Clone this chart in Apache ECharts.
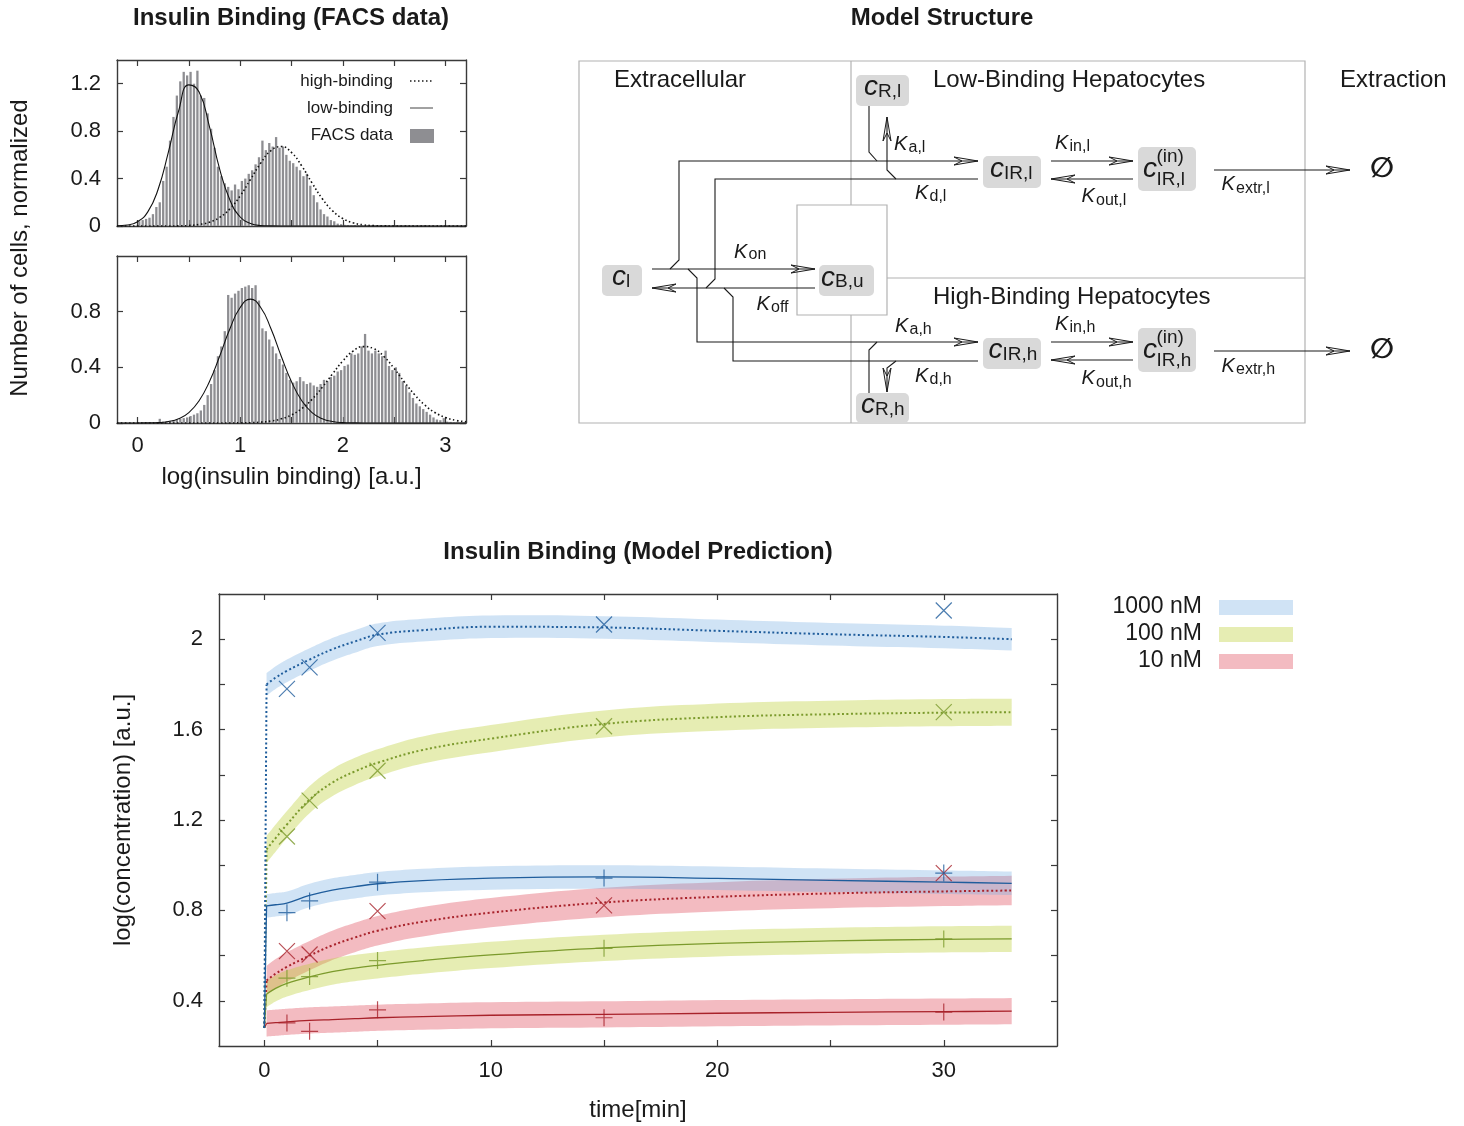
<!DOCTYPE html>
<html>
<head>
<meta charset="utf-8">
<title>Insulin Binding</title>
<script src="https://cdn.jsdelivr.net/npm/echarts@6/dist/echarts.min.js"></script>
<style>
  html, body { margin: 0; padding: 0; background: #fff; }
  #chart { width: 1464px; height: 1126px; }
</style>
</head>
<body>
<div id="chart"></div>
<script>
const FONT = '"Liberation Sans", Arial, Helvetica, sans-serif'
const INK = '#1a1a1a'

// ---- FACS histograms: bin heights, bins of width 1/30 starting at 0 ----
const binWidth = 1 / 30
const facsTop = [0.04, 0.05, 0.06, 0.07, 0.1, 0.16, 0.2, 0.38, 0.5, 0.72,
  0.92, 1.1, 1.22, 1.3, 1.27, 1.3, 1.2, 1.31, 1.1, 1.08,
  0.95, 0.82, 0.66, 0.5, 0.42, 0.36, 0.33, 0.3, 0.35, 0.31,
  0.38, 0.4, 0.44, 0.47, 0.52, 0.58, 0.72, 0.64, 0.7, 0.67,
  0.75, 0.66, 0.67, 0.6, 0.55, 0.53, 0.5, 0.47, 0.42, 0.44,
  0.34, 0.26, 0.2, 0.14, 0.1, 0.08, 0.05, 0.04, 0.02, 0.015,
  0.01, 0.008, 0.006, 0.008, 0.005, 0.006, 0.004, 0.006, 0.005, 0.004,
  0.005, 0.004, 0.006, 0.004, 0.003, 0.005, 0.004, 0.003, 0.004, 0.003,
  0.004, 0.003, 0.003, 0.004, 0.003, 0.002, 0.003, 0.003, 0.002, 0.003,
  0.002, 0.002, 0.003, 0.002, 0.002, 0.002]
const facsBottom = [0.004, 0.004, 0.004, 0.004, 0.004, 0.004, 0.03, 0.01, 0.012, 0.015,
  0.02, 0.025, 0.03, 0.035, 0.04, 0.05, 0.06, 0.07, 0.09, 0.13,
  0.2, 0.28, 0.38, 0.48, 0.55, 0.66, 0.92, 0.9, 0.93, 0.95,
  0.97, 0.98, 0.99, 0.97, 0.99, 0.88, 0.68, 0.66, 0.6, 0.55,
  0.5, 0.46, 0.42, 0.36, 0.31, 0.29, 0.3, 0.33, 0.3, 0.28,
  0.29, 0.27, 0.26, 0.28, 0.31, 0.3, 0.33, 0.34, 0.37, 0.38,
  0.41, 0.42, 0.5, 0.49, 0.5, 0.55, 0.64, 0.52, 0.5, 0.52,
  0.5, 0.48, 0.52, 0.41, 0.38, 0.4, 0.36, 0.3, 0.27, 0.22,
  0.18, 0.14, 0.12, 0.1, 0.08, 0.06, 0.04, 0.025, 0.02, 0.035,
  0.01, 0.008, 0.004, 0.004, 0.004, 0.004]

// fitted populations, sampled on fitX
const fitX = [-0.2, -0.1, 0, 0.1, 0.2, 0.3, 0.4, 0.5, 0.6, 0.7, 0.8, 0.9, 1.0, 1.1, 1.2, 1.3, 1.4,
  1.5, 1.6, 1.7, 1.8, 1.9, 2.0, 2.1, 2.2, 2.3, 2.4, 2.5, 2.6, 2.7, 2.8, 2.9, 3.0, 3.1, 3.2]
const lowFitTop = [0.002, 0.008, 0.036, 0.119, 0.308, 0.62, 0.97, 1.19, 1.13, 0.84, 0.48, 0.22, 0.076,
  0.021, 0.004, 0.001, 0, 0, 0, 0, 0, 0, 0, 0, 0, 0, 0, 0, 0, 0, 0, 0, 0, 0, 0]
const highFitTop = [0, 0, 0, 0, 0, 0, 0.001, 0.004, 0.013, 0.032, 0.073, 0.145, 0.254, 0.392, 0.53,
  0.636, 0.67, 0.62, 0.506, 0.363, 0.23, 0.128, 0.063, 0.027, 0.01, 0.003, 0.001, 0, 0, 0, 0, 0, 0, 0, 0]
const lowFitBottom = [0, 0, 0, 0.001, 0.003, 0.011, 0.031, 0.075, 0.16, 0.297, 0.48, 0.677, 0.83, 0.89,
  0.83, 0.677, 0.48, 0.297, 0.16, 0.075, 0.031, 0.011, 0.003, 0.001, 0, 0, 0, 0, 0, 0, 0, 0, 0, 0, 0]
const highFitBottom = [0, 0, 0, 0, 0, 0, 0, 0, 0, 0, 0, 0, 0.001, 0.002, 0.006, 0.014, 0.03, 0.058,
  0.104, 0.17, 0.257, 0.353, 0.446, 0.517, 0.549, 0.535, 0.478, 0.392, 0.294, 0.203, 0.128, 0.074,
  0.04, 0.019, 0.009]

const histTicksX = [0, 0.5, 1, 1.5, 2, 2.5, 3]
const histLabelsX = [0, 1, 2, 3]
const histTicksTopY = [0, 0.4, 0.8, 1.2]
const histTicksBottomY = [0, 0.4, 0.8]

// ---- model prediction (log concentration vs time) ----
const tModel = [0, 0.1, 0.5, 1, 2, 3, 4, 5, 7, 10, 15, 20, 25, 30, 33]
const high1000 = [0.28, 1.80, 1.83, 1.86, 1.91, 1.955, 1.99, 2.02, 2.04, 2.055, 2.052, 2.037, 2.022, 2.01, 2.0]
const high100 = [0.28, 1.07, 1.12, 1.18, 1.29, 1.365, 1.415, 1.453, 1.51, 1.56, 1.625, 1.655, 1.668, 1.675, 1.677]
const high10 = [0.28, 0.49, 0.52, 0.55, 0.60, 0.645, 0.68, 0.71, 0.75, 0.79, 0.835, 0.86, 0.875, 0.884, 0.888]
const low1000 = [0.28, 0.82, 0.825, 0.832, 0.866, 0.89, 0.905, 0.918, 0.932, 0.943, 0.948, 0.942, 0.933, 0.925, 0.92]
const low100 = [0.28, 0.43, 0.455, 0.477, 0.506, 0.529, 0.545, 0.557, 0.578, 0.603, 0.634, 0.654, 0.665, 0.672, 0.674]
const low10 = [0.28, 0.30, 0.303, 0.307, 0.313, 0.317, 0.321, 0.325, 0.33, 0.336, 0.34, 0.345, 0.349, 0.352, 0.354]
// half width of the uncertainty band around each curve
const bandHalf = { high1000: 0.05, high100: 0.06, high10: 0.065, low1000: 0.052, low100: 0.058, low10: 0.058 }

const tMeasured = [1, 2, 5, 15, 30]
const measHigh1000 = [1.78, 1.875, 2.028, 2.065, 2.127]
const measHigh100 = [1.127, 1.286, 1.418, 1.615, 1.677]
const measHigh10 = [0.62, 0.605, 0.797, 0.822, 0.965]
const measLow1000 = [0.79, 0.842, 0.925, 0.943, 0.965]
const measLow100 = [0.5, 0.507, 0.578, 0.632, 0.674]
const measLow10 = [0.302, 0.265, 0.36, 0.325, 0.35]

const timeTicks = [0, 5, 10, 15, 20, 25, 30]
const timeLabels = [0, 10, 20, 30]
const concTicks = [0.4, 0.6, 0.8, 1.0, 1.2, 1.4, 1.6, 1.8, 2.0]
const concLabels = [0.4, 0.8, 1.2, 1.6, 2]
const doseNames = ['1000 nM', '100 nM', '10 nM']

const BLUE = '#1f5d9c', GREEN = '#7b9a2c', RED = '#a8222a'
const BLUE_BAND = 'rgba(120,175,225,0.35)'
const GREEN_BAND = 'rgba(185,205,45,0.36)'
const RED_BAND = 'rgba(225,85,100,0.4)'
const SMOOTH = 0.4

// ---------- helpers ----------
function txt(x, y, s, size, o = {}) {
  return {
    type: 'text', x, y, rotation: o.rotation || 0, silent: true,
    style: {
      text: s, fill: o.color || INK,
      fontSize: size, fontFamily: o.family || FONT,
      fontStyle: o.italic ? 'italic' : 'normal', fontWeight: o.bold ? 'bold' : 'normal',
      textAlign: o.align || 'left', align: o.align || 'left',
      textVerticalAlign: 'middle', verticalAlign: 'middle'
    }
  }
}
function onBase(x, base, s, size, o) { return txt(x, base - 0.35 * size, s, size, o) }
function line(points, o = {}) {
  return {
    type: 'polyline', silent: true, shape: { points },
    style: { stroke: o.color || INK, lineWidth: o.width || 1.1, fill: null, lineDash: o.dash || null }
  }
}
function box(x, y, w, h, o = {}) {
  return {
    type: 'rect', silent: true, shape: { x, y, width: w, height: h, r: o.r || 0 },
    style: { fill: o.fill || null, stroke: o.stroke || null, lineWidth: o.width || 1 }
  }
}
function arrowHead(x, y, dir) {
  const L = 24, W = 4, N = 16
  const pts = {
    r: [[x - L, y - W], [x, y], [x - L, y + W], [x - N, y], [x - L, y - W]],
    l: [[x + L, y - W], [x, y], [x + L, y + W], [x + N, y], [x + L, y - W]],
    u: [[x - W, y + L], [x, y], [x + W, y + L], [x, y + N], [x - W, y + L]],
    d: [[x - W, y - L], [x, y], [x + W, y - L], [x, y - N], [x - W, y - L]]
  }[dir]
  return line(pts, { width: 1 })
}
// pixel-space bezier outline, same control-point rule as a smoothed line series
function smoothOutline(p, s) {
  const cp = p.map((pt, i) => {
    const prev = p[i - 1] || pt, next = p[i + 1] || pt
    const vx = next[0] - prev[0], vy = next[1] - prev[1]
    const l1 = Math.hypot(pt[0] - prev[0], pt[1] - prev[1])
    const l2 = Math.hypot(next[0] - pt[0], next[1] - pt[1])
    const r = l1 + l2 > 0 ? l2 / (l1 + l2) : 0.5
    return {
      a: [pt[0] - vx * s * (1 - r), pt[1] - vy * s * (1 - r)],
      b: [pt[0] + vx * s * r, pt[1] + vy * s * r]
    }
  })
  const out = [p[0]]
  for (let i = 1; i < p.length; i++) {
    const p0 = p[i - 1], c1 = cp[i - 1].b, c2 = cp[i].a, p1 = p[i]
    for (let k = 1; k <= 10; k++) {
      const u = k / 10, w = 1 - u
      out.push([
        w * w * w * p0[0] + 3 * w * w * u * c1[0] + 3 * w * u * u * c2[0] + u * u * u * p1[0],
        w * w * w * p0[1] + 3 * w * w * u * c1[1] + 3 * w * u * u * c2[1] + u * u * u * p1[1]
      ])
    }
  }
  return out
}

// ---------- model structure diagram ----------
const diagram = []
const GRAYLINE = '#b2b2b2'
diagram.push(box(579, 61, 726, 362, { stroke: GRAYLINE, width: 1.2 }))
diagram.push(line([[851, 61], [851, 205]], { color: GRAYLINE, width: 1.2 }))
diagram.push(line([[851, 315], [851, 423]], { color: GRAYLINE, width: 1.2 }))
diagram.push(box(797, 205, 90, 110, { stroke: GRAYLINE, width: 1.2 }))
diagram.push(line([[887, 278], [1305, 278]], { color: GRAYLINE, width: 1.2 }))

const nodeBoxes = [[856, 75, 53, 31], [983, 156, 58, 32], [1138, 147, 58, 44], [602, 265, 40, 31],
  [819, 265, 55, 31], [983, 338, 58, 31], [1138, 328, 58, 44], [856, 393, 53, 30]]
nodeBoxes.forEach(b => diagram.push(box(b[0], b[1], b[2], b[3], { fill: '#d9d9d9', r: 5 })))

const paths = [
  [[652, 269], [815, 269]],
  [[815, 288], [652, 288]],
  [[670, 269], [679, 260], [679, 161], [978, 161]],
  [[978, 179], [715, 179], [715, 279], [706, 288]],
  [[688, 269], [697, 278], [697, 342], [978, 342]],
  [[978, 361], [733, 361], [733, 297], [724, 288]],
  [[869, 106], [869, 152], [877, 161]],
  [[896, 179], [887, 170], [887, 117]],
  [[877, 342], [869, 350], [869, 393]],
  [[896, 361], [887, 368], [887, 392]],
  [[1051, 161], [1133, 161]],
  [[1133, 179], [1051, 179]],
  [[1214, 170], [1350, 170]],
  [[1051, 342], [1133, 342]],
  [[1133, 360], [1051, 360]],
  [[1214, 351], [1350, 351]]
]
paths.forEach(p => diagram.push(line(p)))
const heads = [[815, 269, 'r'], [652, 288, 'l'], [978, 161, 'r'], [978, 342, 'r'], [887, 117, 'u'],
  [887, 392, 'd'], [1133, 161, 'r'], [1051, 179, 'l'], [1350, 170, 'r'], [1133, 342, 'r'],
  [1051, 360, 'l'], [1350, 351, 'r']]
heads.forEach(h => diagram.push(arrowHead(h[0], h[1], h[2])))

// region names
diagram.push(onBase(614, 89, 'Extracellular', 24))
diagram.push(onBase(933, 89, 'Low-Binding Hepatocytes', 24))
diagram.push(onBase(1340, 89, 'Extraction', 24))
diagram.push(onBase(933, 306, 'High-Binding Hepatocytes', 24))
diagram.push(txt(1382, 170, '\u2205', 28, { align: 'center', bold: true, family: '"DejaVu Sans", sans-serif' }))
diagram.push(txt(1382, 351, '\u2205', 28, { align: 'center', bold: true, family: '"DejaVu Sans", sans-serif' }))

// concentrations: [x, baseline, subscript, subscript x, subscript baseline, superscript baseline]
const nodes = [
  [864, 97.5, 'R,l', 878, 98.5],
  [990, 179, 'IR,l', 1004, 180],
  [1143, 179.5, 'IR,l', 1156.5, 186.5, 163.5],
  [612, 286.7, 'l', 626, 288],
  [821, 287.7, 'B,u', 835, 288.3],
  [988.5, 360.5, 'IR,h', 1002.5, 361.5],
  [1143, 360.5, 'IR,h', 1156.5, 367.5, 344.5],
  [861, 415, 'R,h', 875, 416]
]
nodes.forEach(n => {
  diagram.push(onBase(n[0], n[1], 'c', 28, { italic: true }))
  diagram.push(onBase(n[3], n[4], n[2], 19))
  if (n[5]) diagram.push(onBase(n[3], n[5], '(in)', 19))
})
// rate constants: [x, baseline, subscript, subscript baseline]
const rates = [
  [894, 151.5, 'a,l', 153.5], [915, 200, 'd,l', 202], [734, 259, 'on', 260.5],
  [756.5, 311.7, 'off', 313], [895, 333, 'a,h', 335], [915, 383, 'd,h', 385],
  [1055, 150, 'in,l', 152], [1081.5, 203, 'out,l', 206], [1221.5, 191.7, 'extr,l', 194],
  [1055, 331, 'in,h', 333], [1081.5, 385, 'out,h', 388], [1221.5, 373, 'extr,h', 375.5]
]
rates.forEach(r => {
  diagram.push(onBase(r[0], r[1], 'K', 20, { italic: true }))
  diagram.push(onBase(r[0] + 14.5, r[3], r[2], 16))
})

// ---------- titles, legends ----------
const decor = [
  txt(291, 18, 'Insulin Binding (FACS data)', 24, { bold: true, align: 'center' }),
  txt(942, 18, 'Model Structure', 24, { bold: true, align: 'center' }),
  txt(638, 552, 'Insulin Binding (Model Prediction)', 24, { bold: true, align: 'center' }),
  txt(20, 248, 'Number of cells, normalized', 24, { align: 'center', rotation: Math.PI / 2 }),
  txt(393, 81, 'high-binding', 17, { align: 'right' }),
  line([[410, 81], [433, 81]], { dash: [1.5, 2.5], width: 1.5 }),
  txt(393, 108, 'low-binding', 17, { align: 'right' }),
  line([[410, 108], [433, 108]], { width: 1, color: '#444' }),
  txt(393, 135, 'FACS data', 17, { align: 'right' }),
  box(410, 129, 24, 14, { fill: '#8e8e92' })
]
const legendBands = [BLUE_BAND, GREEN_BAND, RED_BAND]
doseNames.forEach((name, i) => {
  decor.push(txt(1202, 607 + i * 27, name, 23, { align: 'right' }))
  decor.push(box(1219, 600 + i * 27, 74, 15, { fill: legendBands[i] }))
})

// ---------- axes ----------
function mkAxis(gridIndex, position, min, max, ticks, labels, extra = {}) {
  return Object.assign({
    type: 'value', gridIndex, position, min, max,
    splitLine: { show: false },
    axisLine: { show: true, onZero: false, lineStyle: { color: '#3a3a3a', width: 1.4 } },
    axisTick: { show: true, inside: true, length: 6, customValues: ticks, lineStyle: { color: '#3a3a3a', width: 1.2 } },
    axisLabel: labels
      ? { show: true, customValues: labels, fontSize: extra.fontSize || 22, fontFamily: FONT, color: INK, margin: extra.margin || 14 }
      : { show: false }
  }, extra.rest || {})
}

const xAxes = [
  mkAxis(0, 'bottom', -0.2, 3.2, histTicksX, null),
  mkAxis(0, 'top', -0.2, 3.2, histTicksX, null),
  mkAxis(1, 'bottom', -0.2, 3.2, histTicksX, histLabelsX, {
    fontSize: 22, margin: 12,
    rest: { name: 'log(insulin binding) [a.u.]', nameLocation: 'middle', nameGap: 42,
      nameTextStyle: { fontSize: 24, fontFamily: FONT, color: INK } }
  }),
  mkAxis(1, 'top', -0.2, 3.2, histTicksX, null),
  mkAxis(2, 'bottom', -2, 35, timeTicks, timeLabels, {
    fontSize: 22, margin: 14,
    rest: { name: 'time[min]', nameLocation: 'middle', nameGap: 52,
      nameTextStyle: { fontSize: 24, fontFamily: FONT, color: INK } }
  }),
  mkAxis(2, 'top', -2, 35, timeTicks, null)
]
const yAxes = [
  mkAxis(0, 'left', 0, 1.4, histTicksTopY, histTicksTopY, { fontSize: 22, margin: 16 }),
  mkAxis(0, 'right', 0, 1.4, histTicksTopY, null),
  mkAxis(1, 'left', 0, 1.2, histTicksBottomY, histTicksBottomY, { fontSize: 22, margin: 16 }),
  mkAxis(1, 'right', 0, 1.2, histTicksBottomY, null),
  mkAxis(2, 'left', 0.2, 2.2, concTicks, concLabels, {
    fontSize: 22, margin: 16,
    rest: { name: 'log(concentration) [a.u.]', nameLocation: 'middle', nameGap: 84,
      nameTextStyle: { fontSize: 24, fontFamily: FONT, color: INK } }
  }),
  mkAxis(2, 'right', 0.2, 2.2, concTicks, null)
]

// ---------- series ----------
const series = []
const histPanels = [[facsTop, lowFitTop, highFitTop], [facsBottom, lowFitBottom, highFitBottom]]
histPanels.forEach(([bins, lowFit, highFit], p) => {
  const ax = p * 2
  series.push({
    type: 'bar', xAxisIndex: ax, yAxisIndex: ax, silent: true, z: 1,
    barWidth: 2.3, itemStyle: { color: '#8e8e92' },
    data: bins.map((v, i) => [(i + 0.5) * binWidth, v])
  })
  series.push({
    type: 'line', xAxisIndex: ax, yAxisIndex: ax, silent: true, z: 3,
    smooth: true, symbol: 'none', lineStyle: { color: '#111', width: 1.1 },
    data: fitX.map((x, i) => [x, lowFit[i]])
  })
  series.push({
    type: 'line', xAxisIndex: ax, yAxisIndex: ax, silent: true, z: 3,
    smooth: true, symbol: 'none', lineStyle: { color: '#111', width: 1.6, type: [1.5, 2.5] },
    data: fitX.map((x, i) => [x, highFit[i]])
  })
})

// red first so the blue band lies on top where they overlap
const curves = [
  { v: low10, hw: bandHalf.low10, band: RED_BAND, color: RED, dotted: false },
  { v: high10, hw: bandHalf.high10, band: RED_BAND, color: RED, dotted: true },
  { v: low100, hw: bandHalf.low100, band: GREEN_BAND, color: GREEN, dotted: false },
  { v: high100, hw: bandHalf.high100, band: GREEN_BAND, color: GREEN, dotted: true },
  { v: low1000, hw: bandHalf.low1000, band: BLUE_BAND, color: BLUE, dotted: false },
  { v: high1000, hw: bandHalf.high1000, band: BLUE_BAND, color: BLUE, dotted: true }
]
const tBand = tModel.slice(1)
curves.forEach(c => {
  const vb = c.v.slice(1)
  series.push({
    type: 'custom', xAxisIndex: 4, yAxisIndex: 4, silent: true, z: 1, clip: true,
    data: [[tBand[0], vb[0]]],
    renderItem: (params, api) => {
      const upper = smoothOutline(tBand.map((t, i) => api.coord([t, vb[i] + c.hw])), SMOOTH)
      const lower = smoothOutline(tBand.map((t, i) => api.coord([t, vb[i] - c.hw])), SMOOTH).reverse()
      return { type: 'polygon', shape: { points: upper.concat(lower) }, style: { fill: c.band } }
    }
  })
})
curves.forEach(c => {
  const style = c.dotted ? { color: c.color, width: 2, type: [2, 2.5] } : { color: c.color, width: 1.3 }
  // initial jump at t = 0, then the smooth time course
  series.push({
    type: 'line', xAxisIndex: 4, yAxisIndex: 4, silent: true, z: 3, symbol: 'none', lineStyle: style,
    data: [[tModel[0], c.v[0]], [tModel[1], c.v[1]]]
  })
  series.push({
    type: 'line', xAxisIndex: 4, yAxisIndex: 4, silent: true, z: 3, symbol: 'none', lineStyle: style,
    smooth: SMOOTH,
    data: tBand.map((t, i) => [t, c.v[i + 1]])
  })
})

const CROSS = 'path://M0,0L10,10M10,0L0,10'
const PLUS = 'path://M5,0L5,10M0,5L10,5'
const marks = [
  [measLow10, RED, PLUS], [measHigh10, RED, CROSS],
  [measLow100, GREEN, PLUS], [measHigh100, GREEN, CROSS],
  [measLow1000, BLUE, PLUS], [measHigh1000, BLUE, CROSS]
]
marks.forEach(([vals, color, shape]) => {
  series.push({
    type: 'scatter', xAxisIndex: 4, yAxisIndex: 4, silent: true, z: 4,
    symbol: shape, symbolSize: shape === CROSS ? 16 : 17,
    itemStyle: { color: 'rgba(0,0,0,0)', borderColor: color, borderWidth: 1.2 },
    data: tMeasured.map((t, i) => [t, vals[i]])
  })
})

const chart = echarts.init(document.getElementById('chart'))
chart.setOption({
  animation: false,
  backgroundColor: '#fff',
  textStyle: { fontFamily: FONT },
  grid: [
    { left: 117, top: 60, width: 349, height: 166, outerBoundsMode: 'none' },
    { left: 117, top: 256, width: 349, height: 167, outerBoundsMode: 'none' },
    { left: 219, top: 594, width: 838, height: 452, outerBoundsMode: 'none' }
  ],
  xAxis: xAxes,
  yAxis: yAxes,
  series,
  graphic: { elements: decor.concat(diagram) }
})
</script>
</body>
</html>
